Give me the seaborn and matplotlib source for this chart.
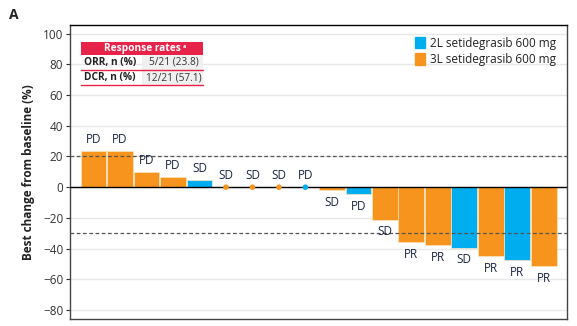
import matplotlib
matplotlib.use("Agg")
import matplotlib.pyplot as plt
import seaborn as sns
import pandas as pd
import numpy as np
from matplotlib.patches import Rectangle
from matplotlib.lines import Line2D

# Best percentage change from baseline per patient, sorted
best_change = [23.6, 23.4, 9.7, 6.7, 4.7, 0, 0, 0, 0, -1.8, -4.6, -21.1,
               -35.8, -37.7, -39.3, -45.1, -47.5, -51.6]
line_of_therapy = ["3L", "3L", "3L", "3L", "2L", "3L", "3L", "3L", "2L", "3L",
                   "2L", "3L", "3L", "3L", "2L", "3L", "2L", "3L"]
best_response = ["PD", "PD", "PD", "PD", "SD", "SD", "SD", "SD", "PD", "SD",
                 "PD", "SD", "PR", "PR", "SD", "PR", "PR", "PR"]
group_labels = {"2L": "2L setidegrasib 600 mg", "3L": "3L setidegrasib 600 mg"}
rate_rows = ["ORR, n (%)", "DCR, n (%)"]
rate_values = ["5/21 (23.8)", "12/21 (57.1)"]
y_ticks = [-80, -60, -40, -20, 0, 20, 40, 60, 80, 100]

BLUE = "#00AEEF"
ORANGE = "#F7941D"
RED = "#E8234A"
LABEL = "#1c2541"
palette = {"2L": BLUE, "3L": ORANGE}

df = pd.DataFrame({
    "patient": np.arange(len(best_change)),
    "change": best_change,
    "line": line_of_therapy,
    "response": best_response,
})

sns.set_style("white")
plt.rcParams["font.family"] = ["Open Sans", "DejaVu Sans"]
plt.rcParams["axes.unicode_minus"] = True

fig = plt.figure(figsize=(5.77, 3.26), dpi=100)
ax = fig.add_axes([0.1218, 0.0206, 0.8604, 0.9018])

# gridlines
for t in y_ticks:
    ax.axhline(t, color="#e8e8e8", lw=1.0, zorder=0)

sns.barplot(data=df, x="patient", y="change", hue="line", palette=palette,
            dodge=False, width=0.97, saturation=1, edgecolor="#fde3c0",
            linewidth=0.5, legend=False, ax=ax, order=list(df["patient"]),
            zorder=2)

ax.axhline(0, color="black", lw=1.0, zorder=3)
ax.axhline(20, color="#555555", lw=0.9, ls=(0, (3, 2)), zorder=3)
ax.axhline(-30, color="#555555", lw=0.9, ls=(0, (3, 2)), zorder=3)

zeros = df[df["change"] == 0]
sns.scatterplot(data=zeros, x="patient", y="change", hue="line",
                palette=palette, s=16, edgecolor="none", legend=False,
                ax=ax, zorder=4)

for _, r in df.iterrows():
    if r["change"] >= 0:
        ax.annotate(r["response"], (r["patient"], r["change"]),
                    xytext=(0, 3.5), textcoords="offset points",
                    ha="center", va="bottom", fontsize=8.5, color=LABEL)
    else:
        ax.annotate(r["response"], (r["patient"], r["change"]),
                    xytext=(0, -4), textcoords="offset points",
                    ha="center", va="top", fontsize=8.5, color=LABEL)

ax.set_xlim(-0.88, len(best_change) - 0.13)
ax.set_ylim(-86, 105.4)
ax.set_yticks(y_ticks)
ax.set_yticklabels([f"{t}".replace("-", "\u2212") for t in y_ticks],
                   fontsize=8.5, color="#333333")
ax.tick_params(axis="y", length=3, width=0.8, color="#333333", pad=2, left=True)
ax.set_xticks([])
ax.set_xlabel("")
ax.set_ylabel("Best change from baseline (%)", fontsize=8.5, fontweight="bold",
              labelpad=6, color="#222222")
ax.spines["top"].set_color("black")
for s in ["left", "bottom", "right"]:
    ax.spines[s].set_color("#444444")
for s in ax.spines.values():
    s.set_linewidth(1.0)

# legend
handles = [Rectangle((0, 0), 1, 1, color=palette[k]) for k in ["2L", "3L"]]
ax.legend(handles, [group_labels[k] for k in ["2L", "3L"]],
          loc="upper right", bbox_to_anchor=(0.995, 0.99), frameon=False,
          fontsize=8.5, handlelength=0.9, handleheight=1.15, handletextpad=0.4,
          labelspacing=0.3, borderaxespad=0.3, labelcolor="#222222")

# response rates table (figure pixel coordinates)
W, H = 577, 326
def fx(px):
    return px / W
def fy(py):
    return 1 - py / H

x0, xm, x1 = 81, 142, 203
fig.patches.append(Rectangle((fx(x0), fy(55)), fx(x1 - x0), (55 - 42) / H,
                             transform=fig.transFigure, facecolor=RED,
                             edgecolor="none", zorder=5))
head = fig.text(fx(104), fy(48.5), "Response rates",
                ha="left", va="center", fontsize=7.3, fontweight="bold",
                color="white", zorder=6)
renderer = fig.canvas.get_renderer()
head_end = head.get_window_extent(renderer).x1
fig.text((head_end + 1.5) / W, fy(46.5), "a", ha="left", va="center",
         fontsize=4, fontweight="bold", color="white", zorder=6)
for i, (lab, val) in enumerate(zip(rate_rows, rate_values)):
    top = 55 + i * 15
    fig.patches.append(Rectangle((fx(xm), fy(top + 15)), fx(x1 - xm), 15 / H,
                                 transform=fig.transFigure,
                                 facecolor="#f0f0f0", edgecolor="none",
                                 zorder=5))
    fig.text(fx(x0 + 3), fy(top + 7.5), lab, ha="left", va="center",
             fontsize=7.3, fontweight="bold", color="#222222", zorder=6)
    fig.text(fx((xm + x1) / 2 + 1), fy(top + 7.5), val, ha="center",
             va="center", fontsize=7.3, color="#333333", zorder=6)
    fig.lines.append(Line2D([fx(x0), fx(x1)], [fy(top + 15), fy(top + 15)],
                            transform=fig.transFigure, color=RED, lw=1.0,
                            zorder=6))

fig.text(fx(9), fy(15), "A", fontsize=10, fontweight="bold",
         ha="left", va="center", color="#222222")

fig.savefig("out.png", dpi=100)
